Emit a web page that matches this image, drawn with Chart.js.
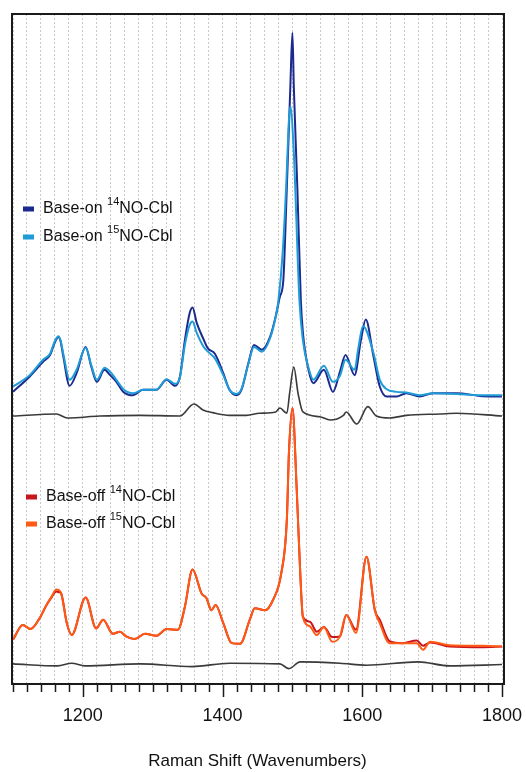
<!DOCTYPE html>
<html>
<head>
<meta charset="utf-8">
<script src="https://cdn.jsdelivr.net/npm/chart.js@4.4.1/dist/chart.umd.min.js"></script>
<style>
  html, body { margin: 0; padding: 0; background: #fff; }
</style>
</head>
<body>
<canvas id="ramanChart" width="526" height="772"></canvas>
<script>
// Raman shift (cm-1) and intensity (arb. units, spectra stacked as in the figure)
const on14Shift = [1100,1124,1143,1153,1160,1165,1168,1172,1181,1191,1204,1212,1220,1231,1239,1248,1258,1272,1286,1305,1320,1332,1339,1346,1353,1357,1363,1373,1379,1389,1401,1410,1420,1427,1437,1445,1456,1468,1477,1482,1487,1492,1497,1500,1502,1507,1512,1515,1523,1530,1545,1558,1568,1576,1589,1598,1605,1616,1625,1635,1649,1663,1682,1701,1735,1768,1800];
const on14Int = [43.6,45.9,48.1,49.1,51.0,51.8,51.2,48.9,44.5,46.4,50.3,47.4,45.1,46.9,46.1,45.1,43.6,43.1,43.9,43.9,45.4,44.5,45.9,51.3,55.4,56.2,53.9,51.4,50.1,49.3,46.4,43.9,43.1,43.9,47.9,50.6,49.9,51.8,55.3,57.8,60.3,74.2,89.1,97.2,89.1,74.2,57.3,52.4,46.9,44.9,46.9,43.6,46.6,49.1,46.1,51.3,54.4,48.9,44.4,42.9,42.9,43.4,42.9,43.4,43.4,43.0,42.9];

const on15Shift = [1100,1124,1143,1153,1160,1165,1168,1172,1181,1191,1204,1212,1220,1231,1239,1248,1258,1272,1286,1305,1320,1332,1339,1346,1353,1357,1363,1373,1379,1389,1401,1410,1420,1427,1437,1445,1456,1468,1477,1480,1486,1491,1495,1497,1502,1510,1515,1523,1530,1545,1558,1568,1576,1589,1594,1601,1616,1625,1635,1649,1663,1682,1701,1735,1768,1800];
const on15Int = [44.4,46.1,48.4,49.3,51.2,51.9,51.3,49.3,45.4,46.9,50.2,47.6,45.4,47.2,46.6,45.4,44.0,43.4,43.9,43.9,45.5,44.8,45.8,50.6,53.6,54.1,52.4,50.3,49.6,48.6,46.1,43.9,43.3,44.0,47.8,50.3,49.6,51.6,55.3,57.3,64.3,74.2,84.2,86.2,79.3,57.3,51.3,47.2,45.4,47.5,45.1,46.0,48.4,46.9,49.9,53.4,49.4,45.4,44.0,43.6,43.5,43.1,43.4,43.3,43.1,43.1];

const diffOnShift = [1100,1162,1178,1224,1282,1339,1359,1372,1386,1410,1434,1453,1476,1482,1492,1496,1502,1508,1515,1539,1554,1573,1577,1592,1608,1620,1639,1663,1711,1735,1800];
const diffOnInt = [40.0,40.3,39.7,40.0,40.1,40.0,41.8,40.9,40.5,40.1,40.1,40.4,40.6,41.2,40.4,43.4,47.3,43.4,40.6,39.9,39.4,40.1,40.6,38.8,41.4,40.0,39.7,40.1,40.3,40.4,40.0];

const offShift = [1100,1114,1125,1138,1148,1155,1162,1166,1169,1177,1184,1204,1219,1229,1243,1253,1262,1274,1289,1305,1320,1336,1346,1357,1370,1377,1384,1390,1401,1413,1425,1439,1446,1461,1472,1484,1492,1495,1500,1506,1511,1515,1525,1535,1545,1557,1568,1577,1591,1606,1618,1625,1639,1658,1678,1687,1697,1725,1773,1800];
const off14Int = [6.6,8.8,8.2,9.8,11.8,12.9,13.8,13.7,13.5,9.1,7.3,12.9,8.3,9.6,7.5,7.8,7.1,6.7,7.5,7.2,8.2,8.1,11.5,17.1,13.5,12.8,11.0,11.8,9.1,6.1,6.0,9.6,11.3,11.0,12.5,16.5,24.5,34.5,41.2,29.4,17.0,10.0,9.3,7.8,8.5,7.0,7.1,10.3,8.1,19.0,11.0,9.6,6.4,6.1,6.5,5.7,6.2,5.6,5.5,5.6];
const off15Int = [6.6,8.8,8.2,9.8,11.8,13.0,14.1,14.0,13.5,9.1,7.3,12.9,8.3,9.6,7.5,7.8,7.1,6.7,7.5,7.2,8.2,8.1,11.5,17.1,13.5,12.8,11.0,11.8,9.1,6.1,6.0,9.6,11.3,11.0,12.5,16.5,24.5,34.5,41.2,29.4,17.0,10.0,8.6,7.3,8.5,6.3,7.1,10.3,7.6,19.0,11.0,9.1,6.1,6.1,6.1,5.1,6.3,5.8,5.7,5.6];

const diffOffShift = [1100,1164,1184,1203,1282,1356,1410,1482,1495,1511,1568,1606,1680,1725,1800];
const diffOffInt = [3.0,2.7,3.1,2.7,3.0,2.6,3.1,3.0,2.3,3.3,3.1,2.8,3.3,2.7,2.9];

const xTickLabels = [1200, 1400, 1600, 1800];

const FONT = "'Liberation Sans', Arial, Helvetica, sans-serif";

function pts(xs, ys) {
    return xs.map((x, i) => ({ x: x, y: ys[i] }));
}

function line(label, xs, ys, color, width) {
    return {
        label: label,
        data: pts(xs, ys),
        borderColor: color,
        backgroundColor: color,
        borderWidth: width,
        pointRadius: 0,
        cubicInterpolationMode: 'monotone',
        fill: false,
    };
}

// legend blocks with superscript isotope labels
const legendItems = [
    { color: '#1b2a8f', text: 'Base-on ', sup: '14', rest: 'NO-Cbl', dx: 10, dy: 195 },
    { color: '#1f9bd7', text: 'Base-on ', sup: '15', rest: 'NO-Cbl', dx: 10, dy: 223 },
    { color: '#c8141c', text: 'Base-off ', sup: '14', rest: 'NO-Cbl', dx: 13, dy: 483 },
    { color: '#ff5a14', text: 'Base-off ', sup: '15', rest: 'NO-Cbl', dx: 13, dy: 510 },
];

const framePlugin = {
    id: 'frame',
    afterDraw(chart) {
        const { ctx, chartArea } = chart;
        const xs = chart.scales.x;
        ctx.save();
        // tick marks below the plot
        ctx.strokeStyle = '#1a1a1a';
        ctx.lineWidth = 1.5;
        xs.ticks.forEach(t => {
            const px = Math.round(xs.getPixelForValue(t.value)) + 0.5;
            const len = xTickLabels.includes(t.value) ? 13 : 8;
            ctx.beginPath();
            ctx.moveTo(px, chartArea.bottom);
            ctx.lineTo(px, chartArea.bottom + len);
            ctx.stroke();
        });
        // box
        ctx.lineWidth = 2;
        ctx.strokeRect(chartArea.left - 1, chartArea.top, chartArea.right - chartArea.left + 3, chartArea.bottom - chartArea.top);

        // legends
        legendItems.forEach(it => {
            const x = chartArea.left + it.dx;
            const y = chartArea.top + it.dy;
            ctx.fillStyle = it.color;
            ctx.fillRect(x, y - 2.5, 11, 5);
            ctx.fillStyle = '#111';
            ctx.textBaseline = 'middle';
            ctx.font = '16px ' + FONT;
            let tx = x + 20;
            ctx.fillText(it.text, tx, y);
            tx += ctx.measureText(it.text).width;
            ctx.font = '11px ' + FONT;
            ctx.fillText(it.sup, tx, y - 7);
            tx += ctx.measureText(it.sup).width;
            ctx.font = '16px ' + FONT;
            ctx.fillText(it.rest, tx, y);
        });
        ctx.restore();
    }
};

const ctx = document.getElementById('ramanChart').getContext('2d');
const ramanChart = new Chart(ctx, {
    type: 'line',
    data: {
        datasets: [
            line('diff on', diffOnShift, diffOnInt, '#3a3a3a', 1.6),
            line('diff off', diffOffShift, diffOffInt, '#3a3a3a', 1.6),
            line('Base-on 15NO-Cbl', on15Shift, on15Int, '#1f9bd7', 2),
            line('Base-on 14NO-Cbl', on14Shift, on14Int, '#1b2a8f', 2),
            line('Base-off 15NO-Cbl', offShift, off15Int, '#ff5a14', 2),
            line('Base-off 14NO-Cbl', offShift, off14Int, '#c8141c', 2),
        ],
    },
    options: {
        responsive: false,
        animation: false,
        layout: { padding: { left: 13, right: 24, top: 14, bottom: 0 } },
        plugins: {
            legend: { display: false },
            tooltip: { enabled: false },
        },
        scales: {
            x: {
                type: 'linear',
                min: 1100,
                max: 1800,
                afterFit: s => {
                    s.height = 88;
                    s.paddingLeft = 0;
                    s.paddingRight = 0;
                },
                grid: {
                    color: '#c8c8c8',
                    lineWidth: 1,
                    drawTicks: false,
                    drawOnChartArea: true,
                },
                border: { display: false, dash: [2, 2] },
                ticks: {
                    stepSize: 20,
                    autoSkip: false,
                    maxRotation: 0,
                    padding: 21,
                    color: '#111',
                    font: { family: FONT, size: 18 },
                    callback: v => (xTickLabels.includes(v) ? String(v) : ''),
                },
                title: {
                    display: true,
                    text: 'Raman Shift (Wavenumbers)',
                    color: '#111',
                    font: { family: FONT, size: 17 },
                    padding: { top: 4, bottom: 0 },
                },
            },
            y: {
                display: false,
                min: 0,
                max: 100,
            },
        },
    },
    plugins: [framePlugin],
});
</script>
</body>
</html>
